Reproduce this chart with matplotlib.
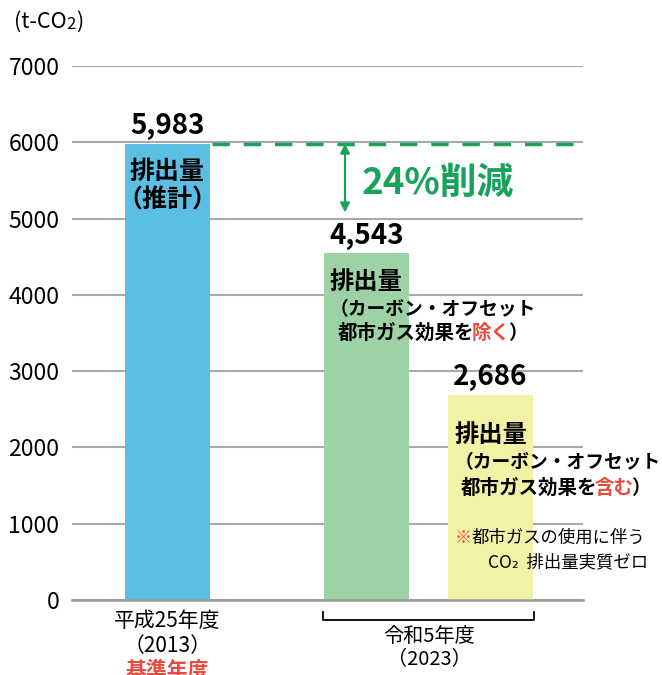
import matplotlib.pyplot as plt

plt.rcParams['font.family'] = ['Noto Sans CJK JP', 'DejaVu Sans']

# data
years = ['平成25年度\n（2013）', '令和5年度\n（2023）']
values = [5983, 4543, 2686]
value_labels = ['5,983', '4,543', '2,686']
bar_colors = ['#5bbfe3', '#9dd2a6', '#f3f1a6']
yticks = [0, 1000, 2000, 3000, 4000, 5000, 6000, 7000]
reduction = '24%削減'

GREEN = '#18a35a'
RED = '#ea4b3f'

fig = plt.figure(figsize=(6.62, 6.75), dpi=100)
ax = fig.add_axes([72/662, 1-600/675, 511/662, 534/675])

xpos = [0.955, 2.945, 4.185]
ax.bar(xpos, values, width=0.85, color=bar_colors, zorder=2)
ax.set_xlim(0, 5.11)
ax.set_ylim(0, 7000)
ax.set_yticks(yticks)
ax.set_yticklabels([str(v) for v in yticks], fontsize=16.5)
ax.set_xticks([])
ax.tick_params(axis='y', length=0, pad=9)
ax.grid(axis='y', color='#a9a9a9', lw=1.5, zorder=1)
for s in ['left', 'right', 'top']:
    ax.spines[s].set_visible(False)
ax.spines['bottom'].set_color('#9a9a9a')
ax.spines['bottom'].set_linewidth(1.8)

# value labels above bars
for x, v, lab in zip(xpos, values, value_labels):
    ax.text(x, v + 50, lab, ha='center', va='bottom', fontsize=20, fontweight='bold')

# blue bar text
ax.text(xpos[0], 5610, '排出量', ha='center', va='center', fontsize=18, fontweight='bold')
ax.text(xpos[0], 5243, '（推計）', ha='center', va='center', fontsize=18, fontweight='bold')


def colored_line(x, y, parts, size):
    prev = None
    for txt, col in parts:
        if prev is None:
            prev = ax.text(x, y, txt, ha='left', va='center', fontsize=size,
                           fontweight='bold', color=col)
        else:
            prev = ax.annotate(txt, xy=(1, 0), xycoords=prev, xytext=(-2, 0),
                               textcoords='offset points', ha='left', va='bottom',
                               fontsize=size, fontweight='bold', color=col)


# green bar text
ax.text(2.58, 4169, '排出量', ha='left', va='center', fontsize=17.5, fontweight='bold')
ax.text(2.58, 3801, '（カーボン・オフセット', ha='left', va='center', fontsize=13.5,
        fontweight='bold')
colored_line(2.66, 3500, [('都市ガス効果を', 'black'), ('除く', RED), ('）', 'black')], 14)

# yellow bar text
ax.text(3.83, 2163, '排出量', ha='left', va='center', fontsize=17.5, fontweight='bold')
ax.text(3.83, 1796, '（カーボン・オフセット', ha='left', va='center', fontsize=13.5,
        fontweight='bold')
colored_line(3.89, 1468, [('都市ガス効果を', 'black'), ('含む', RED), ('）', 'black')], 14)

# footnote
t = ax.text(3.83, 813, '※', ha='left', va='center', fontsize=12.5, color=RED)
ax.annotate('都市ガスの使用に伴う', xy=(1, 0), xycoords=t, ha='left', va='bottom',
            fontsize=12.5)
ax.text(5.76, 498, 'CO₂  排出量実質ゼロ', ha='right', va='center', fontsize=12.5)

# reduction marker
ax.plot([1.40, 5.11], [values[0], values[0]], color=GREEN, lw=2.5,
        dashes=(5, 4), zorder=3, clip_on=False)
ax.annotate('', xy=(2.73, values[0]), xytext=(2.73, 5080),
            arrowprops=dict(arrowstyle='<|-|>', color=GREEN, lw=1.5,
                            mutation_scale=14, shrinkA=0, shrinkB=0))
ax.text(2.90, 5466, reduction, ha='left', va='center', fontsize=26.5,
        fontweight='bold', color=GREEN)

# x labels
ax.text(xpos[0], -275, '平成25年度', ha='center', va='center', fontsize=15, clip_on=False)
ax.text(xpos[0], -603, '（2013）', ha='center', va='center', fontsize=15, clip_on=False)
ax.text(xpos[0], -925, '基準年度', ha='center', va='center', fontsize=15,
        fontweight='bold', color=RED, clip_on=False)

ax.plot([2.51, 2.51, 4.62, 4.62], [-157, -262, -262, -157], color='black',
        lw=1.3, clip_on=False)
ax.text(3.57, -485, '令和5年度', ha='center', va='center', fontsize=14.5, clip_on=False)
ax.text(3.57, -787, '（2023）', ha='center', va='center', fontsize=14.5, clip_on=False)

# unit label
u = fig.text(14/662, 1-22/675, '(t-CO', ha='left', va='center', fontsize=15.5)
u2 = ax.annotate('2', xy=(1, 0), xycoords=u, ha='left', va='bottom', fontsize=12)
ax.annotate(')', xy=(1, 0), xycoords=u2, ha='left', va='bottom', fontsize=15.5)

fig.savefig('out.png', dpi=100)
